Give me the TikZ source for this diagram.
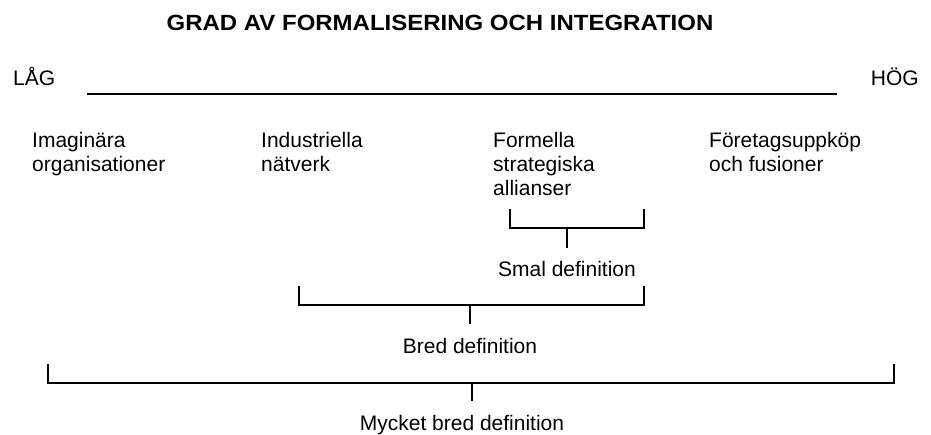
\documentclass[tikz,border=0pt]{standalone}
\usepackage{fontspec}
\setmainfont{Liberation Sans}
\newfontfamily\titlefont{Liberation Sans}[FakeStretch=1.09]
\begin{document}
\begin{tikzpicture}[x=1pt, y=-1pt,
    txt/.style={font=\fontsize{21}{24}\selectfont, inner sep=0pt},
    colnode/.style={txt, align=left, anchor=base west},
    deflabel/.style={txt, anchor=base, inner ysep=13.5pt},
    brk/.style={line width=1.4pt}]
    \useasboundingbox (0,0) rectangle (931,435);

    % rubrik
    \node[txt, font=\titlefont\bfseries\fontsize{22}{26}\selectfont, anchor=base] (title) at (440,31) {GRAD AV FORMALISERING OCH INTEGRATION};

    % skala
    \node[txt, anchor=base west] (lag) at (13,86) {LÅG};
    \node[txt, anchor=base east] (hog) at (919,86) {HÖG};
    \coordinate (skalaA) at (87,94);
    \coordinate (skalaB) at (837,94);
    \draw[line width=2.2pt] (skalaA) -- (skalaB);

    % former (base = sista raden)
    \node[colnode] (imag) at (32,172) {Imaginära\\organisationer};
    \node[colnode] (indu) at (261,172) {Industriella\\nätverk};
    \node[colnode] (form) at (493,196) {Formella\\strategiska\\allianser};
    \node[colnode] (fore) at (709,172) {Företagsuppköp\\och fusioner};

    % smal definition
    \coordinate (smalA) at (510,209);
    \coordinate (smalB) at (644,209);
    \draw[brk] (smalA) -- ++(0,19) coordinate (smalC) -| (smalB);
    \node[deflabel] (smal) at (567,277) {Smal definition};
    \draw[brk] (smal.north) -- (smal.north |- smalC);

    % bred definition
    \coordinate (bredA) at (299,286);
    \coordinate (bredB) at (644,286);
    \draw[brk] (bredA) -- ++(0,19) coordinate (bredC) -| (bredB);
    \node[deflabel] (bred) at (470,353) {Bred definition};
    \draw[brk] (bred.north) -- (bred.north |- bredC);

    % mycket bred definition
    \coordinate (myckA) at (48,364);
    \coordinate (myckB) at (894,364);
    \draw[brk] (myckA) -- ++(0,19) coordinate (myckC) -| (myckB);
    \node[deflabel] (myck) at (462,430) {Mycket bred definition};
    \draw[brk] ([xshift=10pt]myck.north) -- ([xshift=10pt]myck.north |- myckC);
\end{tikzpicture}
\end{document}
